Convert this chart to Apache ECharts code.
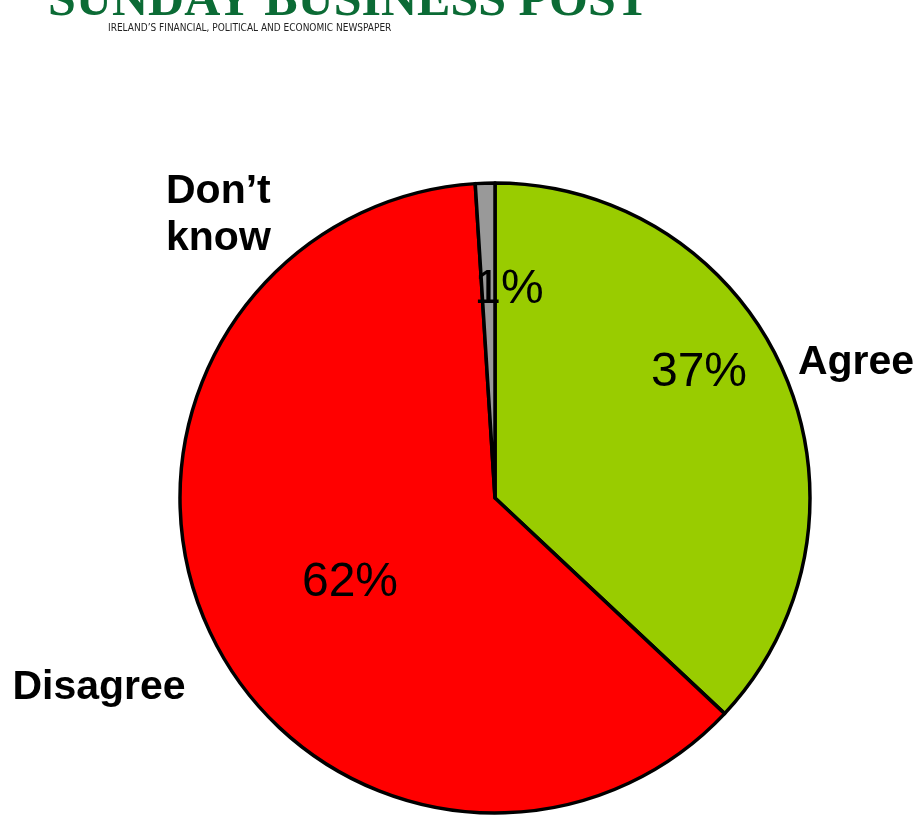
<!DOCTYPE html>
<html>
<head>
<meta charset="utf-8">
<script src="https://cdn.jsdelivr.net/npm/echarts@6/dist/echarts.min.js"></script>
<style>
html,body{margin:0;padding:0;background:#fff;}
#chart{width:916px;height:816px;}
</style>
</head>
<body>
<div id="chart"></div>
<script>
const categories = ['Agree', 'Disagree', 'Don’t know'];
const values = [37, 62, 1];
const nameLabels = ['Agree', 'Disagree', 'Don’t\nknow'];
const colors = ['#99CC00', '#FF0000', '#999999'];

const pctPos = [[699, 373], [350, 583], [509, 290]];
const namePos = [[856, 363], [99, 688], [166, 215]];
const nameAlign = ['center', 'center', 'left'];

const chart = echarts.init(document.getElementById('chart'), null, {renderer: 'canvas'});
const data = categories.map((c, i) => ({name: c, value: values[i], itemStyle: {color: colors[i]}}));

chart.setOption({
  animation: false,
  backgroundColor: '#ffffff',
  graphic: [
    {type: 'text', left: 48, top: -23, style: {text: 'SUNDAY BUSINESS POST', font: 'bold 50px "Liberation Serif"', fill: '#0b6b35'}},
    {type: 'text', left: 108, top: 23, style: {text: 'IRELAND’S FINANCIAL, POLITICAL AND ECONOMIC NEWSPAPER', font: '10px "DejaVu Sans Condensed", "Liberation Sans Narrow", sans-serif', fill: '#222'}}
  ],
  series: [
    {
      type: 'pie',
      center: [495, 498],
      radius: [0, 315],
      startAngle: 90,
      clockwise: true,
      avoidLabelOverlap: false,
      itemStyle: {borderColor: '#000', borderWidth: 3.5},
      label: {
        show: true,
        position: 'inside',
        formatter: p => p.value + '%',
        fontFamily: 'Liberation Sans',
        fontSize: 48,
        color: '#000'
      },
      labelLine: {show: false},
      labelLayout: p => ({x: pctPos[p.dataIndex][0], y: pctPos[p.dataIndex][1], align: 'center', verticalAlign: 'middle'}),
      emphasis: {disabled: true},
      data: data
    },
    {
      type: 'pie',
      center: [495, 498],
      radius: [0, 315],
      startAngle: 90,
      silent: true,
      z: 1,
      itemStyle: {color: 'rgba(0,0,0,0)', borderWidth: 0},
      label: {
        show: true,
        position: 'inside',
        formatter: p => nameLabels[p.dataIndex],
        fontFamily: 'Liberation Sans',
        fontWeight: 'bold',
        fontSize: 41,
        lineHeight: 47,
        color: '#000'
      },
      labelLine: {show: false},
      labelLayout: p => ({x: namePos[p.dataIndex][0], y: namePos[p.dataIndex][1], align: nameAlign[p.dataIndex], verticalAlign: 'middle'}),
      emphasis: {disabled: true},
      data: categories.map((c, i) => ({name: c, value: values[i]}))
    }
  ]
});
</script>
</body>
</html>
